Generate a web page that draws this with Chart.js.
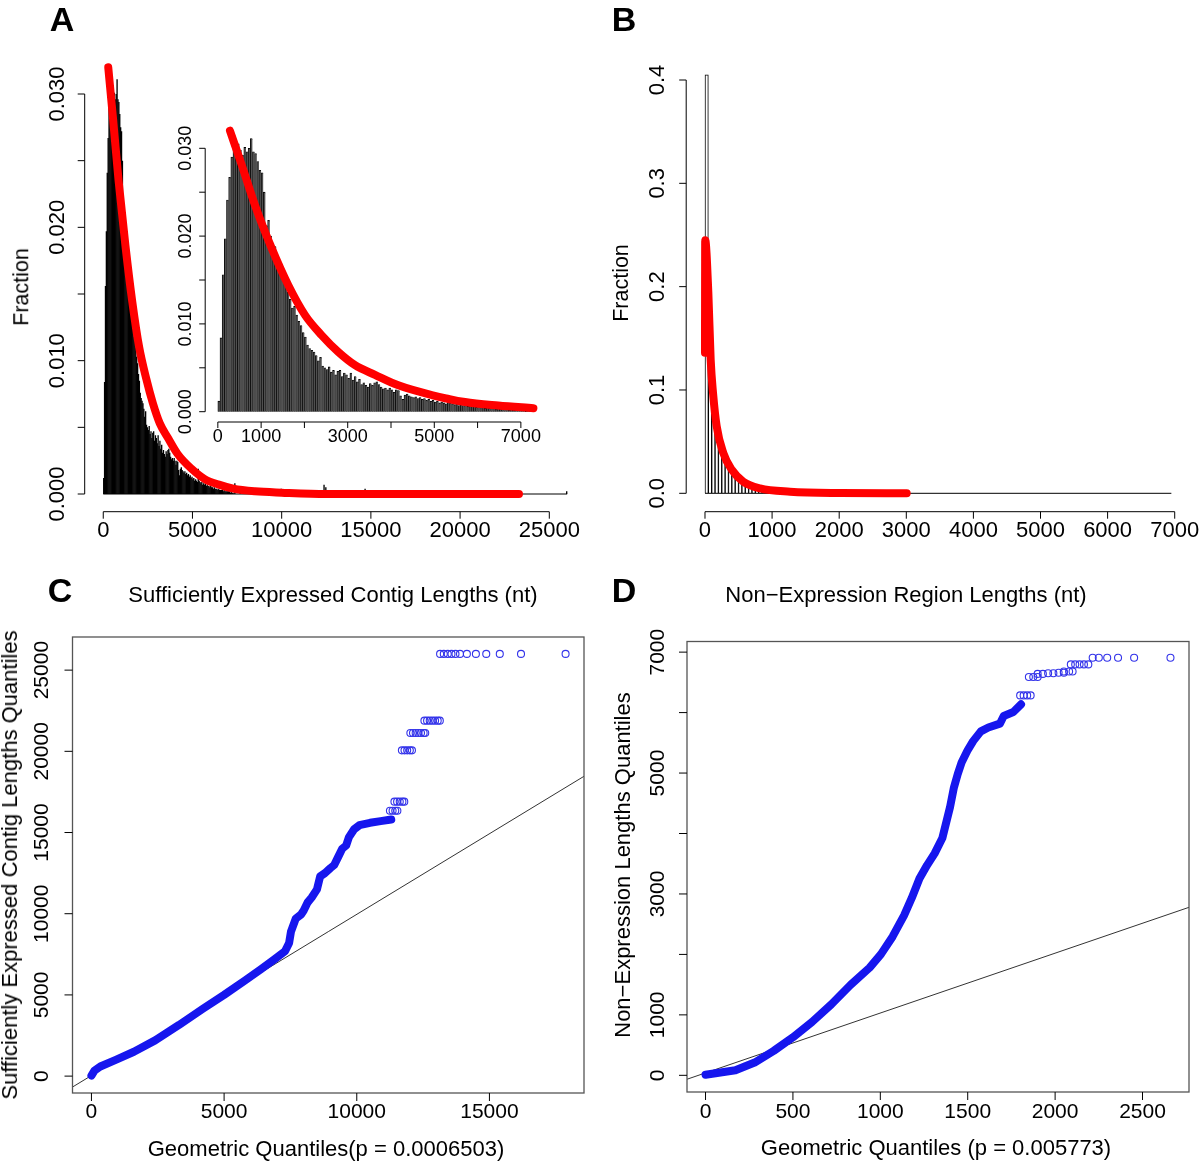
<!DOCTYPE html>
<html>
<head>
<meta charset="utf-8">
<script src="https://cdn.jsdelivr.net/npm/chart.js@4.4.0/dist/chart.umd.min.js"></script>
<style>
  body { margin: 0; background: #fff; }
  #page { position: relative; width: 1200px; height: 1163px; font-family: "Liberation Sans", Arial, sans-serif; color: #000; }
  #page canvas { position: absolute; left: 0; top: 0; }
  .t { position: absolute; white-space: nowrap; line-height: 1; font-size: 22px; transform: translate(-50%, -50%); }
  .rot { transform: translate(-50%, -50%) rotate(-90deg); }
  .lett { font-weight: bold; font-size: 34px; }
  .frac { font-size: 21.5px; }
</style>
</head>
<body>
<div id="page">
  <canvas id="cA" width="1200" height="1163"></canvas>
  <canvas id="cInset" width="1200" height="1163"></canvas>
  <canvas id="cB" width="1200" height="1163"></canvas>
  <canvas id="cC" width="1200" height="1163"></canvas>
  <canvas id="cD" width="1200" height="1163"></canvas>

  <div class="t lett" style="left:62px;top:19px">A</div>
  <div class="t lett" style="left:624px;top:19px">B</div>
  <div class="t lett" style="left:60px;top:590px">C</div>
  <div class="t lett" style="left:624px;top:590px">D</div>

  <div class="t rot frac" style="left:22px;top:287px">Fraction</div>
  <div class="t rot frac" style="left:622px;top:283px">Fraction</div>

  <div class="t" style="left:333px;top:595px">Sufficiently Expressed Contig Lengths (nt)</div>
  <div class="t" style="left:906px;top:595px">Non−Expression Region Lengths (nt)</div>
  <div class="t rot" style="left:10px;top:865px">Sufficiently Expressed Contig Lengths Quantiles</div>
  <div class="t rot" style="left:623px;top:865px">Non−Expression Lengths Quantiles</div>
  <div class="t" style="left:326px;top:1149px">Geometric Quantiles(p = 0.0006503)</div>
  <div class="t" style="left:936px;top:1148px">Geometric Quantiles (p = 0.005773)</div>
</div>

<script>
// ---- data ----
const binWidth = 50;

// panel A: fraction per 50 nt bin from 0 to 7300 nt (main plot and inset share it)
const contigFrac = [
  0.0012, 0.0084, 0.0156, 0.0197, 0.0241, 0.0267, 0.0290, 0.0302, 0.0303, 0.0305,
  0.0298, 0.0292, 0.0301, 0.0296, 0.0300, 0.0311, 0.0296, 0.0294, 0.0285, 0.0275,
  0.0272, 0.0250, 0.0212, 0.0218, 0.0200, 0.0192, 0.0188, 0.0176, 0.0170, 0.0168,
  0.0150, 0.0145, 0.0136, 0.0128, 0.0118, 0.0120, 0.0110, 0.0103, 0.0098, 0.0090,
  0.0085, 0.0076, 0.0072, 0.0070, 0.0068, 0.0064, 0.0058, 0.0062, 0.0052, 0.0050,
  0.0048, 0.0051, 0.0045, 0.0047, 0.0042, 0.0046, 0.0047, 0.0040, 0.0044, 0.0042,
  0.0038, 0.0044, 0.0036, 0.0040, 0.0034, 0.0037, 0.0031, 0.0033, 0.0030, 0.0028,
  0.0032, 0.0030, 0.0033, 0.0034, 0.0031, 0.0028, 0.0026, 0.0027, 0.0025, 0.0027,
  0.0025, 0.0022, 0.0025, 0.0024, 0.0018, 0.0014, 0.0019, 0.0020, 0.0018, 0.0017,
  0.0016, 0.0017, 0.0015, 0.0016, 0.0014, 0.0015, 0.0013, 0.0014, 0.0012, 0.0013,
  0.0011, 0.0012, 0.0010, 0.0011, 0.0010, 0.0009, 0.0019, 0.0010, 0.0009, 0.0008,
  0.0009, 0.0007, 0.0008, 0.0007, 0.0008, 0.0006, 0.0007, 0.0006, 0.0006, 0.0005,
  0.0006, 0.0005, 0.0005, 0.0004, 0.0005, 0.0004, 0.0004, 0.0004, 0.0003, 0.0004,
  0.0003, 0.0003, 0.0003, 0.0003, 0.0002, 0.0003, 0.0002, 0.0002, 0.0002, 0.0002,
  0.0002, 0.0002, 0.0001, 0.0002, 0.0001, 0.0001
];
// panel A: scattered bars in the long tail (bin start, fraction)
const contigTailStart = [7350, 7650, 8100, 8700, 9950, 10500, 11000, 12350, 12450, 13000, 13600, 14100, 14650, 15300, 16500, 19000, 25950];
const contigTailFrac  = [0.0008, 0.0004, 0.0005, 0.0003, 0.0004, 0.0002, 0.0002, 0.0007, 0.0005, 0.0002, 0.0002, 0.0003, 0.0004, 0.0001, 0.0001, 0.0001, 0.0002];
const contigMaxLen = 26000;

// panel A: fitted geometric curve (red)
const fitAx = [280, 552, 859, 1245, 1628, 2014, 2400, 2783, 3169, 3630, 4169, 4940, 5709, 6478, 7290, 8500, 10000, 12500, 15000, 20000, 23300];
const fitAy = [0.0320, 0.0281, 0.0235, 0.0186, 0.0144, 0.0110, 0.0087, 0.0068, 0.0053, 0.0042, 0.0030, 0.0019, 0.0011, 0.0007, 0.0004, 0.0002, 0.0001, 0, 0, 0, 0];
const insetMaxLen = 7300;

// panel B: fraction per 50 nt bin
const gapFrac = [
  0.405, 0.158, 0.101, 0.065, 0.046, 0.036, 0.028, 0.022, 0.017, 0.0135,
  0.0105, 0.0082, 0.0065, 0.0050, 0.0040, 0.0032, 0.0025, 0.0020, 0.0016, 0.0012,
  0.0010, 0.0008, 0.0006, 0.0005, 0.0004, 0.0003, 0.0003
];
const gapMaxLen = 6950;
const fitBx = [0, 3, 50, 85, 120, 174, 273, 397, 571, 820, 1267, 2012, 3006];
const fitBy = [0.136, 0.245, 0.194, 0.129, 0.097, 0.065, 0.039, 0.023, 0.0112, 0.0048, 0.0016, 0.0003, 0];

// panel C: QQ points (dense band, then separate circles)
const qqCx = [0, 120, 335, 916, 1600, 2400, 3300, 4200, 5000, 5800, 6400, 6900, 7300, 7450, 7520, 7700, 7900, 8000, 8150, 8300, 8500, 8620, 8800, 9000, 9150, 9300, 9450, 9600, 9700, 9900, 10100, 10500, 10900, 11300];
const qqCy = [30, 350, 594, 1000, 1500, 2200, 3150, 4150, 5000, 5900, 6600, 7200, 7700, 8200, 8900, 9700, 9950, 10200, 10700, 11000, 11500, 12300, 12500, 12800, 13000, 13500, 14000, 14200, 14700, 15200, 15450, 15600, 15700, 15800];
const qqCoutX = [11250, 11350, 11450, 11530, 11420, 11520, 11620, 11720, 11790, 11700, 11800, 11900, 12000, 12080,
  12020, 12120, 12220, 12320, 12420, 12520, 12580, 12550, 12650, 12750, 12850, 12950, 13050, 13130,
  13140, 13280, 13430, 13570, 13720, 13890, 14150, 14490, 14880, 15390, 16190, 17870];
const qqCoutY = [16340, 16340, 16340, 16340, 16900, 16900, 16900, 16900, 16900, 20060, 20060, 20060, 20060, 20060,
  21130, 21130, 21130, 21130, 21130, 21130, 21130, 21890, 21890, 21890, 21890, 21890, 21890, 21890,
  26000, 26000, 26000, 26000, 26000, 26000, 26000, 26000, 26000, 26000, 26000, 26000];
const qqClineX = [-714, 18564];
const qqClineY = [-673, 18463];

// panel D
const qqDx = [0, 171, 281, 390, 500, 610, 719, 829, 939, 1004, 1070, 1136, 1180, 1224, 1268, 1311, 1355, 1377, 1399, 1421, 1443, 1465, 1498, 1531, 1575, 1618, 1684, 1706, 1761, 1805];
const qqDy = [10, 83, 211, 404, 628, 884, 1172, 1493, 1781, 2005, 2293, 2646, 2934, 3254, 3478, 3671, 3927, 4183, 4439, 4760, 4984, 5176, 5368, 5528, 5689, 5753, 5817, 5945, 6009, 6137];
const qqDoutX = [1800, 1820, 1840, 1860, 1850, 1875, 1900, 1900, 1930, 1960, 1990, 2020, 2050, 2050, 2080, 2100,
  2090, 2115, 2140, 2165, 2190, 2215, 2250, 2298, 2360, 2452, 2660];
const qqDoutY = [6284, 6284, 6284, 6284, 6590, 6590, 6590, 6640, 6640, 6650, 6650, 6660, 6660, 6680, 6680, 6680,
  6797, 6797, 6797, 6797, 6797, 6906, 6906, 6906, 6906, 6906, 6906];
const qqDlineX = [-106, 2766];
const qqDlineY = [-65, 2779];

// ---- tick marks and labels ----
const aXTicks = [0, 5000, 10000, 15000, 20000, 25000];
const aXLabels = ["0", "5000", "10000", "15000", "20000", "25000"];
const aYTicks = [0, 0.005, 0.01, 0.015, 0.02, 0.025, 0.03];
const aYLabels = ["0.000", "", "0.010", "", "0.020", "", "0.030"];
const inXTicks = [0, 1000, 2000, 3000, 4000, 5000, 6000, 7000];
const inXLabels = ["0", "1000", "", "3000", "", "5000", "", "7000"];
const bXTicks = [0, 1000, 2000, 3000, 4000, 5000, 6000, 7000];
const bXLabels = ["0", "1000", "2000", "3000", "4000", "5000", "6000", "7000"];
const bYTicks = [0, 0.1, 0.2, 0.3, 0.4];
const bYLabels = ["0.0", "0.1", "0.2", "0.3", "0.4"];
const cXTicks = [0, 5000, 10000, 15000];
const cXLabels = ["0", "5000", "10000", "15000"];
const cYTicks = [0, 5000, 10000, 15000, 20000, 25000];
const cYLabels = ["0", "5000", "10000", "15000", "20000", "25000"];
const dXTicks = [0, 500, 1000, 1500, 2000, 2500];
const dXLabels = ["0", "500", "1000", "1500", "2000", "2500"];
const dYTicks = [0, 1000, 2000, 3000, 4000, 5000, 6000, 7000];
const dYLabels = ["0", "1000", "", "3000", "", "5000", "", "7000"];

// ---- helpers ----
const W = 1200, H = 1163;
const FONT = '"Liberation Sans", Arial, sans-serif';
const pts = (xs, ys) => xs.map((x, i) => ({ x, y: ys[i] }));
// value range shown between pixel pa and pb, given two pixel/value anchors
function span(p0, v0, p1, v1, pa, pb) {
  const k = (v1 - v0) / (p1 - p0);
  return [v0 + (pa - p0) * k, v0 + (pb - p0) * k];
}
const binBars = (fr) => fr.map((v, i) => ({ x: i * binWidth + binWidth / 2, y: v }));

// R style axes: line spans first..last tick, ticks outward, y labels turned
const rAxes = {
  id: "rAxes",
  afterDraw(chart, args, o) {
    const ctx = chart.ctx, a = chart.chartArea;
    const xs = chart.scales.x, ys = chart.scales.y;
    ctx.save();
    ctx.lineWidth = 1;
    ctx.strokeStyle = "#000";
    ctx.fillStyle = "#000";
    ctx.font = o.fontSize + "px " + FONT;
    ctx.textAlign = "center";
    ctx.textBaseline = "middle";
    if (o.box) {
      ctx.strokeStyle = "#555";
      ctx.lineWidth = 1.3;
      ctx.strokeRect(a.left, a.top, a.right - a.left, a.bottom - a.top);
      ctx.strokeStyle = "#000";
      ctx.lineWidth = 1;
    }
    const xp = o.xTicks.map((t) => xs.getPixelForValue(t));
    const yp = o.yTicks.map((t) => ys.getPixelForValue(t));
    ctx.beginPath();
    if (!o.box) {
      ctx.moveTo(xp[0], a.bottom); ctx.lineTo(xp[xp.length - 1], a.bottom);
      ctx.moveTo(a.left, yp[0]); ctx.lineTo(a.left, yp[yp.length - 1]);
    }
    xp.forEach((p) => { ctx.moveTo(p, a.bottom); ctx.lineTo(p, a.bottom + o.tick); });
    yp.forEach((p) => { ctx.moveTo(a.left, p); ctx.lineTo(a.left - o.tick, p); });
    ctx.stroke();
    xp.forEach((p, i) => ctx.fillText(o.xLabels[i], p, a.bottom + o.xGap));
    yp.forEach((p, i) => {
      ctx.save();
      ctx.translate(a.left - o.yGap, p);
      ctx.rotate(-Math.PI / 2);
      ctx.fillText(o.yLabels[i], 0, 0);
      ctx.restore();
    });
    ctx.restore();
  }
};

function makeChart(id, type, box, xr, yr, datasets, axes) {
  return new Chart(document.getElementById(id), {
    type,
    data: { datasets },
    options: {
      responsive: false,
      animation: false,
      events: [],
      layout: { padding: { left: box.l, top: box.t, right: W - box.r, bottom: H - box.b } },
      scales: {
        x: { type: "linear", display: false, offset: false, min: xr[0], max: xr[1] },
        y: { type: "linear", display: false, min: yr[0], max: yr[1] }
      },
      plugins: { legend: { display: false }, tooltip: { enabled: false }, rAxes: axes }
    },
    plugins: [rAxes]
  });
}

const redLine = (data) => ({
  type: "line", data, order: 0,
  borderColor: "#ff0000", borderWidth: 8, pointRadius: 0,
  cubicInterpolationMode: "monotone", borderCapStyle: "round", borderJoinStyle: "round"
});
const baseLine = (x1) => ({
  type: "line", data: [{ x: 0, y: 0 }, { x: x1, y: 0 }], order: 1,
  borderColor: "#000", borderWidth: 1, pointRadius: 0
});
const denseQQ = (data) => ({
  data, showLine: true, order: 1,
  borderColor: "#1616ee", borderWidth: 8, pointRadius: 0,
  borderCapStyle: "round", borderJoinStyle: "round"
});
const circlesQQ = (data) => ({
  data, order: 2,
  pointRadius: 3.5, pointBorderWidth: 1.1, borderColor: "#3434ea", backgroundColor: "rgba(0,0,0,0)"
});
const qqLine = (data) => ({
  data, showLine: true, order: 3,
  borderColor: "#333", borderWidth: 1, pointRadius: 0
});

// ---- panel A, main histogram ----
const mainBars = binBars(contigFrac).concat(pts(contigTailStart.map((s) => s + binWidth / 2), contigTailFrac));
makeChart("cA", "bar",
  { l: 84.7, r: 585.7, t: 40, b: 511.7 },
  [-1040, 27040],
  span(494, 0, 94, 0.03, 511.7, 40),
  [
    redLine(pts(fitAx, fitAy)),
    baseLine(contigMaxLen),
    { data: mainBars, order: 2, backgroundColor: "#000", borderWidth: 0,
      barPercentage: 1.5, categoryPercentage: 1, grouped: false }
  ],
  { xTicks: aXTicks, xLabels: aXLabels, yTicks: aYTicks, yLabels: aYLabels,
    tick: 7, xGap: 19, yGap: 27, fontSize: 22 });

// ---- panel A, inset ----
const insetFit = pts(fitAx, fitAy).filter((p) => p.x <= insetMaxLen);
makeChart("cInset", "bar",
  { l: 205.2, r: 546.5, t: 115, b: 422 },
  [-292, 7592],
  span(411.7, 0, 148.3, 0.03, 422, 115),
  [
    redLine(insetFit),
    { data: binBars(contigFrac), order: 2, backgroundColor: "#505050", borderColor: "#000",
      borderWidth: { left: 0.8, top: 0.8, right: 0, bottom: 0 },
      barPercentage: 1, categoryPercentage: 1, grouped: false }
  ],
  { xTicks: inXTicks, xLabels: inXLabels, yTicks: aYTicks, yLabels: aYLabels,
    tick: 6, xGap: 15, yGap: 19, fontSize: 18 });

// ---- panel B ----
makeChart("cB", "bar",
  { l: 686.2, r: 1193.5, t: 40, b: 511.7 },
  [-280, 7280],
  span(493.3, 0, 80, 0.4, 511.7, 40),
  [
    redLine(pts(fitBx, fitBy)),
    baseLine(gapMaxLen),
    { data: binBars(gapFrac), order: 2, backgroundColor: "#fff", borderColor: "#000",
      borderWidth: { left: 1, top: 1, right: 1, bottom: 0 },
      barPercentage: 1, categoryPercentage: 1, grouped: false }
  ],
  { xTicks: bXTicks, xLabels: bXLabels, yTicks: bYTicks, yLabels: bYLabels,
    tick: 7, xGap: 19, yGap: 28, fontSize: 22 });

// ---- panel C ----
makeChart("cC", "scatter",
  { l: 72.5, r: 584, t: 637, b: 1093 },
  [-714, 18564],
  [-1040, 27040],
  [denseQQ(pts(qqCx, qqCy)), circlesQQ(pts(qqCoutX, qqCoutY)), qqLine(pts(qqClineX, qqClineY))],
  { box: true, xTicks: cXTicks, xLabels: cXLabels, yTicks: cYTicks, yLabels: cYLabels,
    tick: 8, xGap: 19, yGap: 30, fontSize: 21 });

// ---- panel D ----
makeChart("cD", "scatter",
  { l: 687, r: 1189, t: 641.5, b: 1092 },
  [-106, 2766],
  [-276, 7176],
  [denseQQ(pts(qqDx, qqDy)), circlesQQ(pts(qqDoutX, qqDoutY)), qqLine(pts(qqDlineX, qqDlineY))],
  { box: true, xTicks: dXTicks, xLabels: dXLabels, yTicks: dYTicks, yLabels: dYLabels,
    tick: 8, xGap: 20, yGap: 29, fontSize: 21 });
</script>
</body>
</html>
